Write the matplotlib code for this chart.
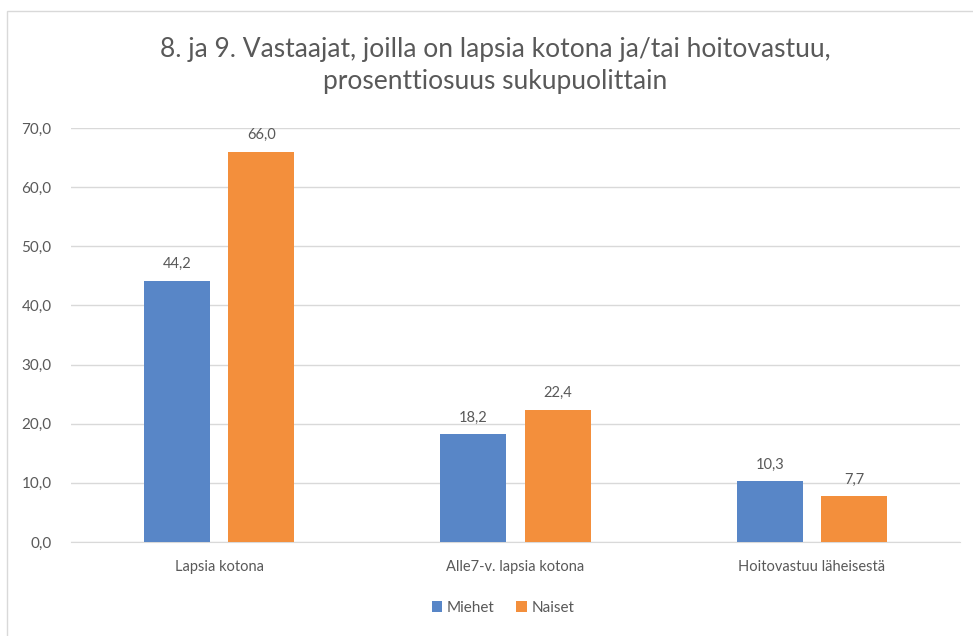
import matplotlib
matplotlib.use("Agg")
import matplotlib.pyplot as plt
import numpy as np
from matplotlib.patches import Rectangle

categories = ["Lapsia kotona", "Alle7-v. lapsia kotona", "Hoitovastuu läheisestä"]
miehet = [44.2, 18.2, 10.3]
naiset = [66.0, 22.4, 7.7]
yticks = [0, 10, 20, 30, 40, 50, 60, 70]
title = "8. ja 9. Vastaajat, joilla on lapsia kotona ja/tai hoitovastuu,\nprosenttiosuus sukupuolittain"

plt.rcParams['font.family'] = ['Lato', 'DejaVu Sans']
txt = "#595959"
blue = "#5886C7"
orange = "#F38F3C"

fig = plt.figure(figsize=(9.73, 6.36), dpi=100)
fig.patches.append(Rectangle((7/973, -0.05), 1.0, 1.05 - 11/636, transform=fig.transFigure,
                             fill=False, edgecolor="#D9D9D9", linewidth=1.0, clip_on=False))
ax = fig.add_axes([71/973, 1 - 542/636, (960 - 71)/973, (542 - 128)/636])

x = np.arange(len(categories))
w = 0.223
off = 0.142
b1 = ax.bar(x - off, miehet, w, color=blue, label="Miehet", zorder=3)
b2 = ax.bar(x + off, naiset, w, color=orange, label="Naiset", zorder=3)
for bars, vals in ((b1, miehet), (b2, naiset)):
    for r, v in zip(bars, vals):
        ax.text(r.get_x() + r.get_width()/2, v + 1.6, f"{v:.1f}".replace(".", ","),
                ha="center", va="bottom", fontsize=10.5, color=txt)

ax.set_xlim(-0.5, 2.5)
ax.set_ylim(0, 70)
ax.set_yticks(yticks)
ax.set_yticklabels([f"{t:.1f}".replace(".", ",") for t in yticks], fontsize=11, color=txt)
ax.set_xticks(x)
ax.set_xticklabels(categories, fontsize=10.5, color=txt)
ax.tick_params(axis="both", length=0)
ax.tick_params(axis="y", pad=14)
ax.tick_params(axis="x", pad=13)
ax.grid(axis="y", color="#D9D9D9", linewidth=1.0, zorder=0)
for s in ["top", "right", "left"]:
    ax.spines[s].set_visible(False)
ax.spines["bottom"].set_color("#D9D9D9")

fig.text(495/973, 1 - 66/636, title, ha="center", va="center", fontsize=19, color=txt,
         linespacing=1.35)

leg = fig.legend(handles=[b1, b2], loc="center", bbox_to_anchor=(503/973, 1 - 608/636), ncol=2,
                 frameon=False, fontsize=11, handlelength=0.7, handleheight=0.7,
                 handletextpad=0.3, columnspacing=1.4)
for t in leg.get_texts():
    t.set_color(txt)

fig.savefig("out.png", dpi=100)
